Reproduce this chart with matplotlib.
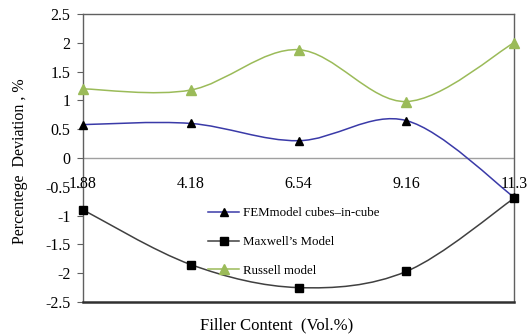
import matplotlib
matplotlib.use("Agg")
import matplotlib.pyplot as plt
import numpy as np
from matplotlib.path import Path
from matplotlib.patches import PathPatch
from matplotlib.lines import Line2D
import matplotlib.transforms as mtransforms

categories = ["1.88", "4.18", "6.54", "9.16", "11.3"]
fem = [0.58, 0.60, 0.30, 0.65, -0.68]
maxwell = [-0.90, -1.85, -2.25, -1.97, -0.70]
russell = [1.20, 1.18, 1.88, 0.98, 2.00]
yticks = [2.5, 2, 1.5, 1, 0.5, 0, -0.5, -1, -1.5, -2, -2.5]

plt.rcParams['font.family'] = ['Liberation Serif', 'DejaVu Serif']

fig = plt.figure(figsize=(5.31, 3.36), dpi=100)
ax = fig.add_axes([83/531, 34/336, 431/531, 288/336])
x = np.arange(len(categories))


def smooth_path(xs, ys, t=1/6):
    pts = np.column_stack([xs, ys]).astype(float)
    n = len(pts)
    verts = [pts[0]]
    codes = [Path.MOVETO]
    for i in range(n - 1):
        p0 = pts[i - 1] if i > 0 else pts[i]
        p1 = pts[i]
        p2 = pts[i + 1]
        p3 = pts[i + 2] if i + 2 < n else pts[i + 1]
        c1 = p1 + (p2 - p0) * t
        c2 = p2 - (p3 - p1) * t
        verts += [c1, c2, p2]
        codes += [Path.CURVE4] * 3
    return Path(verts, codes)


series = [
    ("FEMmodel cubes\u2013in-cube", fem, "#3a3aa8", "^", "black", 6),
    ("Maxwell\u2019s Model", maxwell, "#404040", "s", "black", 6),
    ("Russell model", russell, "#9bbb59", "^", "#9bbb59", 7.5),
]

ax.axhline(0, color="#a0a0a0", lw=1.0, zorder=1)

handles = []
for label, vals, lc, mk, mc, ms in series:
    patch = PathPatch(smooth_path(x, vals), facecolor="none", edgecolor=lc, lw=1.1, zorder=2)
    ax.add_patch(patch)
    ax.plot(x, vals, ls="none", marker=mk, color=mc, ms=ms, clip_on=False, zorder=3)
    handles.append(Line2D([], [], color=lc, lw=1.1, marker=mk, mfc=mc, mec=mc, ms=ms - 0.5))

ax.set_xlim(0, 4)
ax.set_ylim(-2.5, 2.5)
ax.set_yticks(yticks)
ax.set_yticklabels([f"{v:g}" for v in yticks], fontsize=11.5)
ax.tick_params(axis="y", direction="out", length=4, width=0.8, color="#606060", pad=5)
ax.set_xticks([])

for s in ["top", "right", "left"]:
    ax.spines[s].set_color("#606060")
    ax.spines[s].set_linewidth(1.0)
ax.spines["bottom"].set_color("#303030")
ax.spines["bottom"].set_linewidth(1.8)

offset = mtransforms.offset_copy(ax.transData, fig=fig, x=0, y=-26, units="dots")
for xi, lab in zip(x, categories):
    ax.text(xi, 0, lab, transform=offset, ha="center", va="center", fontsize=11.5,
            clip_on=False, zorder=4)

leg = ax.legend(handles, [s[0] for s in series], loc="upper left",
                bbox_to_anchor=(120/431, 0.347), frameon=False, fontsize=9.3,
                handlelength=2.4, handletextpad=0.3, labelspacing=1.3, borderaxespad=0)

fig.text(20/531, 1 - 161/336, "Percentege  Deviation , %", rotation=90,
         ha="center", va="center", fontsize=11.5)
fig.text(277/531, 1 - 325/336, "Filler Content  (Vol.%)", ha="center", va="center", fontsize=12)

fig.savefig("out.png", dpi=100)
